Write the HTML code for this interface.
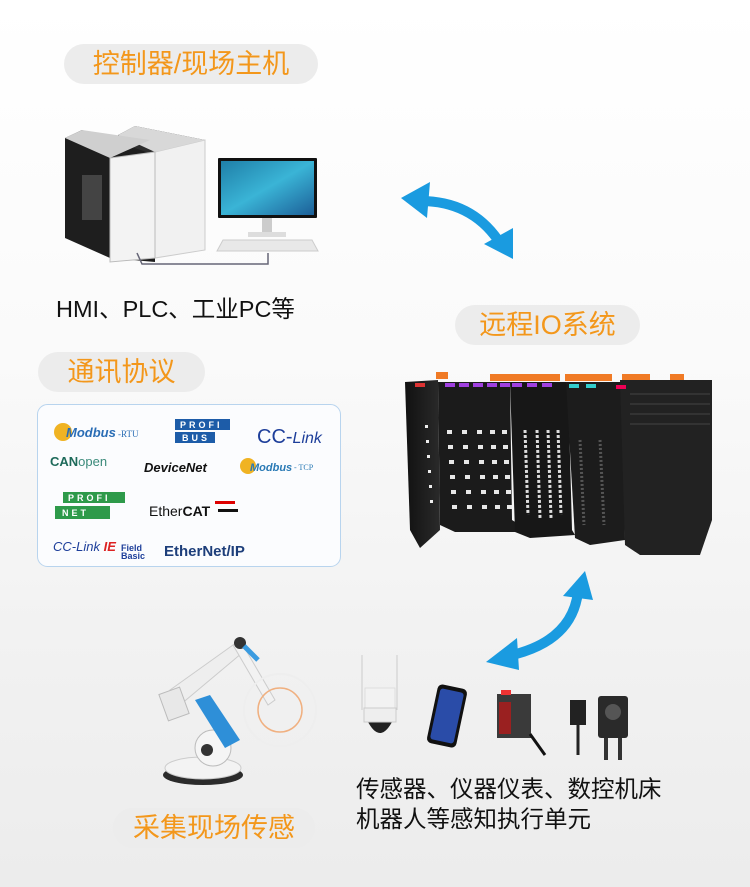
<!DOCTYPE html>
<html><head><meta charset="utf-8"><style>
html,body{margin:0;padding:0}
body{width:750px;height:887px;overflow:hidden;background:linear-gradient(#fff 0,#fafafa 40%,#f1f1f1 75%,#ececec 100%);position:relative;font-family:"Liberation Sans","Noto Sans CJK SC",sans-serif}
.pill{position:absolute;background:#ececec;border-radius:20px;color:#f3971b;font-size:27px;text-align:center;line-height:40px;height:40px}
.t{position:absolute;color:#111;font-size:23.5px;white-space:nowrap}
svg{position:absolute;left:0;top:0}
</style></head><body>
<svg width="750" height="887" viewBox="0 0 750 887">
<defs>
<linearGradient id="scr" x1="0" y1="0" x2="1" y2="1"><stop offset="0" stop-color="#1f7fa8"/><stop offset=".5" stop-color="#3ab4d6"/><stop offset="1" stop-color="#1c5f98"/></linearGradient>
<linearGradient id="blk" x1="0" y1="0" x2="1" y2="0"><stop offset="0" stop-color="#111"/><stop offset="1" stop-color="#2a2a2a"/></linearGradient>
</defs>
<!-- PCs -->
<polygon points="118,135 135,126 205,140 205,250 155,258 118,245" fill="#2c2c2c"/>
<polygon points="155,152 205,140 205,250 155,258" fill="#f1f1f1" stroke="#ccc"/>
<polygon points="118,135 135,126 205,140 155,152" fill="#d8d8d8"/>
<polygon points="65,138 82,130 155,155 155,262 110,258 65,238" fill="#1e1e1e"/>
<polygon points="65,138 82,130 150,140 110,158" fill="#cfcfcf"/>
<polygon points="110,158 155,152 155,258 110,262" fill="#f3f3f3" stroke="#bbb"/>
<rect x="82" y="175" width="20" height="45" fill="#444"/>
<polyline points="137,253 142,264 268,264 268,253" fill="none" stroke="#667" stroke-width="1.5"/>
<!-- monitor -->
<rect x="218" y="158" width="99" height="60" fill="#111" rx="1"/>
<rect x="221" y="161" width="93" height="54" fill="url(#scr)"/>
<rect x="262" y="218" width="10" height="16" fill="#ccc"/>
<rect x="248" y="232" width="38" height="5" fill="#ddd"/>
<polygon points="223,240 312,240 318,251 217,251" fill="#e8e8e8" stroke="#ccc"/>
<!-- arrows -->
<path d="M418,201 Q470,200 498,240" fill="none" stroke="#1a9be0" stroke-width="10"/>
<polygon points="401,198 430,182 427,218" fill="#1a9be0"/>
<polygon points="513,259 484,244 513,228" fill="#1a9be0"/>
<path d="M578,592 Q572,642 508,656" fill="none" stroke="#1a9be0" stroke-width="10"/>
<polygon points="585,571 563,596 593,600" fill="#1a9be0"/>
<polygon points="486,662 517,638 519,670" fill="#1a9be0"/>
<!-- protocol box -->
<rect x="37.5" y="404.5" width="303" height="162" rx="10" fill="#fbfcfe" stroke="#b8d4ee"/>
<circle cx="63" cy="432" r="9" fill="#f0b323"/>
<text x="66" y="437" font-family="Liberation Sans" font-weight="bold" font-style="italic" font-size="13" fill="#2a6db5">Modbus</text>
<text x="118" y="437" font-family="Liberation Serif" font-size="9" fill="#2a6db5">-RTU</text>
<rect x="175" y="419" width="55" height="11" fill="#1d5ca8"/><rect x="175" y="432" width="40" height="11" fill="#1d5ca8"/>
<text x="180" y="428" font-size="9" font-weight="bold" fill="#fff" letter-spacing="3">PROFI</text>
<text x="182" y="441" font-size="9" font-weight="bold" fill="#fff" letter-spacing="3">BUS</text>
<text x="257" y="443" font-family="Liberation Sans" font-size="20" fill="#1d3e9a">CC-<tspan font-style="italic" font-size="16">Link</tspan></text>
<text x="50" y="466" font-weight="bold" font-size="13" fill="#1e6a5a">CAN<tspan font-weight="normal" fill="#3a8a7a">open</tspan></text>
<text x="144" y="472" font-style="italic" font-weight="bold" font-size="13" fill="#111">DeviceNet</text>
<circle cx="248" cy="466" r="8" fill="#f0b323"/>
<text x="250" y="471" font-weight="bold" font-style="italic" font-size="11" fill="#2a7ab5">Modbus</text>
<text x="294" y="470" font-family="Liberation Serif" font-size="8" fill="#2a7ab5">- TCP</text>
<rect x="63" y="492" width="62" height="11" fill="#2e9a4a"/><rect x="55" y="506" width="55" height="13" fill="#2e9a4a"/>
<text x="68" y="501" font-size="9" font-weight="bold" fill="#fff" letter-spacing="3">PROFI</text>
<text x="62" y="516" font-size="9" font-weight="bold" fill="#fff" letter-spacing="3">NET</text>
<text x="149" y="516" font-size="14" fill="#111">Ether<tspan font-weight="bold">CAT</tspan></text>
<rect x="215" y="501" width="20" height="3" fill="#d00"/><rect x="218" y="509" width="20" height="3" fill="#111"/>
<text x="53" y="551" font-style="italic" font-size="13" fill="#1d3e9a">CC-Link <tspan font-weight="bold" fill="#d22">IE</tspan></text>
<text x="121" y="551" font-size="9" font-weight="bold" fill="#1d3e9a">Field</text>
<text x="121" y="559" font-size="9" font-weight="bold" fill="#1d3e9a">Basic</text>
<text x="164" y="556" font-weight="bold" font-size="15" fill="#1d3e7a">EtherNet/IP</text>
<!-- IO modules -->
<rect x="436" y="372" width="12" height="7" fill="#f07a25"/>
<rect x="490" y="374" width="70" height="7" fill="#f07a25"/>
<rect x="565" y="374" width="47" height="7" fill="#f07a25"/>
<rect x="622" y="374" width="28" height="7" fill="#f07a25"/><rect x="670" y="374" width="14" height="7" fill="#f07a25"/>
<polygon points="405,382 438,380 440,530 420,548 410,530" fill="url(#blk)"/>
<polygon points="438,382 510,382 512,520 520,525 520,532 455,532 440,525" fill="#1b1b1b"/>
<polygon points="510,382 568,382 572,530 575,535 530,538 515,532" fill="#171717"/>
<polygon points="566,382 622,382 625,540 590,545 575,538" fill="#1c1c1c"/>
<polygon points="620,380 712,380 712,520 700,555 640,555 625,545" fill="#222"/>
<g stroke="#333" stroke-width="2"><line x1="630" y1="394" x2="710" y2="394"/><line x1="630" y1="404" x2="710" y2="404"/><line x1="630" y1="414" x2="710" y2="414"/><line x1="630" y1="424" x2="710" y2="424"/></g>
<rect x="415" y="383" width="10" height="4" fill="#d33"/>
<g fill="#a040e0"><rect x="445" y="383" width="10" height="4"/><rect x="459" y="383" width="10" height="4"/><rect x="473" y="383" width="10" height="4"/><rect x="487" y="383" width="10" height="4"/><rect x="500" y="383" width="10" height="4"/><rect x="512" y="383" width="10" height="4"/><rect x="527" y="383" width="10" height="4"/><rect x="542" y="383" width="10" height="4"/></g>
<rect x="569" y="384" width="10" height="4" fill="#3cc"/><rect x="586" y="384" width="10" height="4" fill="#3cc"/>
<rect x="616" y="385" width="10" height="4" fill="#e05"/>
<g fill="#eee">
<rect x="425" y="425" width="3" height="3"/><rect x="426" y="440" width="3" height="3"/><rect x="427" y="455" width="3" height="3"/><rect x="428" y="470" width="3" height="3"/><rect x="429" y="485" width="3" height="3"/><rect x="430" y="500" width="3" height="3"/>
</g>
<g fill="#e8e8e8">
<rect x="447" y="430" width="5" height="4"/><rect x="462" y="430" width="5" height="4"/><rect x="477" y="430" width="5" height="4"/><rect x="490" y="430" width="5" height="4"/><rect x="502" y="430" width="5" height="4"/>
<rect x="448" y="445" width="5" height="4"/><rect x="463" y="445" width="5" height="4"/><rect x="478" y="445" width="5" height="4"/><rect x="491" y="445" width="5" height="4"/><rect x="503" y="445" width="5" height="4"/>
<rect x="449" y="460" width="5" height="4"/><rect x="464" y="460" width="5" height="4"/><rect x="479" y="460" width="5" height="4"/><rect x="492" y="460" width="5" height="4"/><rect x="504" y="460" width="5" height="4"/>
<rect x="450" y="475" width="5" height="4"/><rect x="465" y="475" width="5" height="4"/><rect x="480" y="475" width="5" height="4"/><rect x="493" y="475" width="5" height="4"/><rect x="505" y="475" width="5" height="4"/>
<rect x="451" y="490" width="5" height="4"/><rect x="466" y="490" width="5" height="4"/><rect x="481" y="490" width="5" height="4"/><rect x="494" y="490" width="5" height="4"/><rect x="506" y="490" width="5" height="4"/>
<rect x="452" y="505" width="5" height="4"/><rect x="467" y="505" width="5" height="4"/><rect x="482" y="505" width="5" height="4"/><rect x="495" y="505" width="5" height="4"/><rect x="507" y="505" width="5" height="4"/>
</g>
<g stroke="#ddd" stroke-width="3" stroke-dasharray="3 2"><line x1="525" y1="430" x2="528" y2="515"/><line x1="537" y1="430" x2="540" y2="518"/><line x1="548" y1="430" x2="551" y2="518"/><line x1="558" y1="430" x2="561" y2="515"/></g>
<g stroke="#555" stroke-width="3" stroke-dasharray="2 2"><line x1="580" y1="440" x2="584" y2="525"/><line x1="600" y1="440" x2="604" y2="525"/></g>
<!-- robot -->
<ellipse cx="203" cy="775" rx="40" ry="10" fill="#2b2b2b"/>
<ellipse cx="203" cy="768" rx="38" ry="11" fill="#f3f3f3" stroke="#ccc"/>
<circle cx="213" cy="748" r="18" fill="#f5f5f5" stroke="#bbb"/>
<circle cx="207" cy="750" r="6" fill="#333"/>
<path d="M195,700 L210,695 L240,740 L225,748 Z" fill="#2e8fd8"/>
<path d="M170,690 L240,640 L248,648 L180,705 Z" fill="#eee" stroke="#ccc"/>
<rect x="163" y="690" width="22" height="28" fill="#e8e8e8" stroke="#bbb" transform="rotate(-20 174 704)"/>
<path d="M240,640 L275,700 L268,705 L233,645 Z" fill="#f2f2f2" stroke="#ccc"/>
<circle cx="240" cy="643" r="6" fill="#333"/>
<path d="M244,646 L258,660" stroke="#3a9be0" stroke-width="5"/>
<circle cx="280" cy="710" r="22" fill="none" stroke="#f0b080" stroke-width="1.5"/>
<circle cx="280" cy="710" r="36" fill="none" stroke="#eee" stroke-width="2"/>
<!-- sensors -->
<line x1="362" y1="655" x2="362" y2="710" stroke="#ccc"/><line x1="397" y1="655" x2="397" y2="710" stroke="#ccc"/>
<rect x="365" y="688" width="30" height="20" fill="#f2f2f2" stroke="#ddd"/>
<path d="M367,720 Q380,746 393,720 Z" fill="#222"/>
<rect x="364" y="708" width="32" height="14" fill="#eee" stroke="#ccc"/>
<rect x="432" y="686" width="30" height="60" rx="5" fill="#111" transform="rotate(12 447 716)"/>
<rect x="435" y="690" width="24" height="52" rx="3" fill="#2a4ca8" transform="rotate(12 447 716)"/>
<rect x="497" y="694" width="34" height="44" fill="#3a3a3a"/>
<rect x="499" y="702" width="12" height="32" fill="#9a2020"/>
<rect x="501" y="690" width="10" height="5" fill="#e33"/>
<path d="M530,734 L545,755" stroke="#111" stroke-width="3"/>
<rect x="570" y="700" width="16" height="25" fill="#222"/>
<line x1="578" y1="725" x2="578" y2="755" stroke="#222" stroke-width="3"/>
<rect x="598" y="696" width="30" height="42" rx="3" fill="#2a2a2a"/>
<circle cx="613" cy="712" r="8" fill="#555"/>
<line x1="606" y1="738" x2="606" y2="760" stroke="#333" stroke-width="4"/><line x1="620" y1="738" x2="620" y2="760" stroke="#333" stroke-width="4"/>
</svg>
<div class="pill" style="left:64px;top:44px;width:254px">控制器/现场主机</div>
<div class="t" style="left:56px;top:290px">HMI、PLC、工业PC等</div>
<div class="pill" style="left:455px;top:305px;width:185px">远程IO系统</div>
<div class="pill" style="left:38px;top:352px;width:167px">通讯协议</div>
<div class="t" style="left:356px;top:770px">传感器、仪器仪表、数控机床</div>
<div class="t" style="left:356px;top:800px">机器人等感知执行单元</div>
<div class="pill" style="left:113px;top:808px;width:202px">采集现场传感</div>
</body></html>
